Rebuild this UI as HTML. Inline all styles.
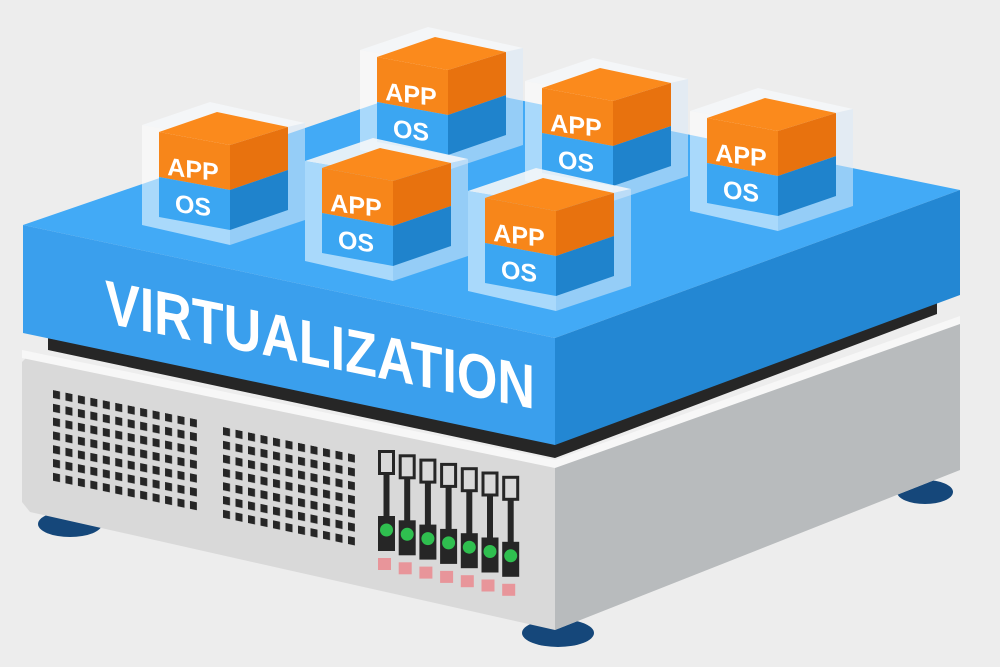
<!DOCTYPE html>
<html><head><meta charset="utf-8"><style>
html,body{margin:0;padding:0;background:#ededed;}
svg{display:block;}
text{font-family:"Liberation Sans",sans-serif;font-weight:bold;fill:#fff;}
</style></head><body>
<svg width="1000" height="667" viewBox="0 0 1000 667" xmlns="http://www.w3.org/2000/svg">
<defs>
<pattern id="v1" x="0" y="0" width="12.45" height="13.8" patternUnits="userSpaceOnUse"><rect width="7" height="8" fill="#262626"/></pattern>
<pattern id="v2" x="0" y="0" width="12.5" height="13.8" patternUnits="userSpaceOnUse"><rect width="7" height="8" fill="#262626"/></pattern>
</defs>
<rect width="1000" height="667" fill="#ededed"/>
<!-- feet -->
<ellipse cx="70" cy="524" rx="32" ry="13" fill="#15477a"/>
<ellipse cx="925" cy="492" rx="28" ry="12" fill="#15477a"/>
<ellipse cx="558" cy="633" rx="36" ry="14" fill="#15477a"/>
<!-- server -->
<polygon points="30,354 555,466 960,322 960,470 555,630 30,512 22,502 22,362" fill="#d9d9d9"/>
<polygon points="555,466 960,322 960,470 555,630" fill="#b8bbbd"/>
<polygon points="22,350 555,460 960,316 960,324 555,468 22,358" fill="#f7f7f7"/>
<!-- black strip -->
<polygon points="48,338 555,440 937,300 937,314 555,458 48,350" fill="#262626"/>
<!-- blue slab -->
<polygon points="23,225 436,83 960,190 555,338" fill="#42aaf6"/>
<polygon points="23,225 555,338 555,445 23,333" fill="#3a9fed"/>
<polygon points="555,338 960,190 960,295 555,445" fill="#2387d3"/>
<text x="105" y="302" font-size="62" textLength="430" lengthAdjust="spacingAndGlyphs" transform="matrix(1,0.2,0,1,0,0)">VIRTUALIZATION</text>
<!-- vents -->
<g transform="matrix(1,0.205,0,1,53,390)"><rect x="0" y="0" width="144" height="91" fill="url(#v1)"/></g>
<g transform="matrix(1,0.21,0,1,223,427)"><rect x="0" y="0" width="132" height="91" fill="url(#v2)"/></g>
<!-- drive slots -->
<g transform="translate(378,450)"><rect x="1.5" y="1.5" width="14" height="22" fill="none" stroke="#262626" stroke-width="3"/><rect x="5.5" y="24" width="6" height="46" fill="#262626"/><rect x="0" y="66" width="17" height="35" fill="#262626"/><circle cx="8.5" cy="80" r="6.5" fill="#2fbf4f"/><rect x="0" y="108" width="13" height="12" fill="#e8959a"/></g>
<g transform="translate(398.7,454.3)"><rect x="1.5" y="1.5" width="14" height="22" fill="none" stroke="#262626" stroke-width="3"/><rect x="5.5" y="24" width="6" height="46" fill="#262626"/><rect x="0" y="66" width="17" height="35" fill="#262626"/><circle cx="8.5" cy="80" r="6.5" fill="#2fbf4f"/><rect x="0" y="108" width="13" height="12" fill="#e8959a"/></g>
<g transform="translate(419.4,458.6)"><rect x="1.5" y="1.5" width="14" height="22" fill="none" stroke="#262626" stroke-width="3"/><rect x="5.5" y="24" width="6" height="46" fill="#262626"/><rect x="0" y="66" width="17" height="35" fill="#262626"/><circle cx="8.5" cy="80" r="6.5" fill="#2fbf4f"/><rect x="0" y="108" width="13" height="12" fill="#e8959a"/></g>
<g transform="translate(440.1,462.9)"><rect x="1.5" y="1.5" width="14" height="22" fill="none" stroke="#262626" stroke-width="3"/><rect x="5.5" y="24" width="6" height="46" fill="#262626"/><rect x="0" y="66" width="17" height="35" fill="#262626"/><circle cx="8.5" cy="80" r="6.5" fill="#2fbf4f"/><rect x="0" y="108" width="13" height="12" fill="#e8959a"/></g>
<g transform="translate(460.8,467.2)"><rect x="1.5" y="1.5" width="14" height="22" fill="none" stroke="#262626" stroke-width="3"/><rect x="5.5" y="24" width="6" height="46" fill="#262626"/><rect x="0" y="66" width="17" height="35" fill="#262626"/><circle cx="8.5" cy="80" r="6.5" fill="#2fbf4f"/><rect x="0" y="108" width="13" height="12" fill="#e8959a"/></g>
<g transform="translate(481.5,471.5)"><rect x="1.5" y="1.5" width="14" height="22" fill="none" stroke="#262626" stroke-width="3"/><rect x="5.5" y="24" width="6" height="46" fill="#262626"/><rect x="0" y="66" width="17" height="35" fill="#262626"/><circle cx="8.5" cy="80" r="6.5" fill="#2fbf4f"/><rect x="0" y="108" width="13" height="12" fill="#e8959a"/></g>
<g transform="translate(502.2,475.8)"><rect x="1.5" y="1.5" width="14" height="22" fill="none" stroke="#262626" stroke-width="3"/><rect x="5.5" y="24" width="6" height="46" fill="#262626"/><rect x="0" y="66" width="17" height="35" fill="#262626"/><circle cx="8.5" cy="80" r="6.5" fill="#2fbf4f"/><rect x="0" y="108" width="13" height="12" fill="#e8959a"/></g>

<!-- cubes -->
<g transform="translate(377,57)">
<polygon points="-17,-7 51,-30 146,-9 71,8" fill="#f4f6f8" opacity="0.9"/>
<polygon points="-17,-7 71,8 71,113 -17,93" fill="#ffffff" opacity="0.55"/>
<polygon points="71,8 146,-9 146,88 71,113" fill="#dbeaf7" opacity="0.55"/>
<polygon points="0,0 58,-20 129,-5 71,13" fill="#fb8a1c"/>
<polygon points="0,0 71,13 71,58 0,45" fill="#f7861a"/>
<polygon points="71,13 129,-5 129,38 71,58" fill="#e8720e"/>
<polygon points="0,45 71,58 71,98 0,85" fill="#3ba6f2"/>
<polygon points="71,58 129,38 129,78 71,98" fill="#1f83cc"/>
<g transform="matrix(1,0.12,0,1,0,0)"><text x="34" y="42" font-size="25" text-anchor="middle">APP</text><text x="34" y="78" font-size="25" text-anchor="middle">OS</text></g>
</g>
<g transform="translate(542,88)">
<polygon points="-17,-7 51,-30 146,-9 71,8" fill="#f4f6f8" opacity="0.9"/>
<polygon points="-17,-7 71,8 71,113 -17,93" fill="#ffffff" opacity="0.55"/>
<polygon points="71,8 146,-9 146,88 71,113" fill="#dbeaf7" opacity="0.55"/>
<polygon points="0,0 58,-20 129,-5 71,13" fill="#fb8a1c"/>
<polygon points="0,0 71,13 71,58 0,45" fill="#f7861a"/>
<polygon points="71,13 129,-5 129,38 71,58" fill="#e8720e"/>
<polygon points="0,45 71,58 71,98 0,85" fill="#3ba6f2"/>
<polygon points="71,58 129,38 129,78 71,98" fill="#1f83cc"/>
<g transform="matrix(1,0.12,0,1,0,0)"><text x="34" y="42" font-size="25" text-anchor="middle">APP</text><text x="34" y="78" font-size="25" text-anchor="middle">OS</text></g>
</g>
<g transform="translate(707,118)">
<polygon points="-17,-7 51,-30 146,-9 71,8" fill="#f4f6f8" opacity="0.9"/>
<polygon points="-17,-7 71,8 71,113 -17,93" fill="#ffffff" opacity="0.55"/>
<polygon points="71,8 146,-9 146,88 71,113" fill="#dbeaf7" opacity="0.55"/>
<polygon points="0,0 58,-20 129,-5 71,13" fill="#fb8a1c"/>
<polygon points="0,0 71,13 71,58 0,45" fill="#f7861a"/>
<polygon points="71,13 129,-5 129,38 71,58" fill="#e8720e"/>
<polygon points="0,45 71,58 71,98 0,85" fill="#3ba6f2"/>
<polygon points="71,58 129,38 129,78 71,98" fill="#1f83cc"/>
<g transform="matrix(1,0.12,0,1,0,0)"><text x="34" y="42" font-size="25" text-anchor="middle">APP</text><text x="34" y="78" font-size="25" text-anchor="middle">OS</text></g>
</g>
<g transform="translate(159,132)">
<polygon points="-17,-7 51,-30 146,-9 71,8" fill="#f4f6f8" opacity="0.9"/>
<polygon points="-17,-7 71,8 71,113 -17,93" fill="#ffffff" opacity="0.55"/>
<polygon points="71,8 146,-9 146,88 71,113" fill="#dbeaf7" opacity="0.55"/>
<polygon points="0,0 58,-20 129,-5 71,13" fill="#fb8a1c"/>
<polygon points="0,0 71,13 71,58 0,45" fill="#f7861a"/>
<polygon points="71,13 129,-5 129,38 71,58" fill="#e8720e"/>
<polygon points="0,45 71,58 71,98 0,85" fill="#3ba6f2"/>
<polygon points="71,58 129,38 129,78 71,98" fill="#1f83cc"/>
<g transform="matrix(1,0.12,0,1,0,0)"><text x="34" y="42" font-size="25" text-anchor="middle">APP</text><text x="34" y="78" font-size="25" text-anchor="middle">OS</text></g>
</g>
<g transform="translate(322,168)">
<polygon points="-17,-7 51,-30 146,-9 71,8" fill="#f4f6f8" opacity="0.9"/>
<polygon points="-17,-7 71,8 71,113 -17,93" fill="#ffffff" opacity="0.55"/>
<polygon points="71,8 146,-9 146,88 71,113" fill="#dbeaf7" opacity="0.55"/>
<polygon points="0,0 58,-20 129,-5 71,13" fill="#fb8a1c"/>
<polygon points="0,0 71,13 71,58 0,45" fill="#f7861a"/>
<polygon points="71,13 129,-5 129,38 71,58" fill="#e8720e"/>
<polygon points="0,45 71,58 71,98 0,85" fill="#3ba6f2"/>
<polygon points="71,58 129,38 129,78 71,98" fill="#1f83cc"/>
<g transform="matrix(1,0.12,0,1,0,0)"><text x="34" y="42" font-size="25" text-anchor="middle">APP</text><text x="34" y="78" font-size="25" text-anchor="middle">OS</text></g>
</g>
<g transform="translate(485,198)">
<polygon points="-17,-7 51,-30 146,-9 71,8" fill="#f4f6f8" opacity="0.9"/>
<polygon points="-17,-7 71,8 71,113 -17,93" fill="#ffffff" opacity="0.55"/>
<polygon points="71,8 146,-9 146,88 71,113" fill="#dbeaf7" opacity="0.55"/>
<polygon points="0,0 58,-20 129,-5 71,13" fill="#fb8a1c"/>
<polygon points="0,0 71,13 71,58 0,45" fill="#f7861a"/>
<polygon points="71,13 129,-5 129,38 71,58" fill="#e8720e"/>
<polygon points="0,45 71,58 71,98 0,85" fill="#3ba6f2"/>
<polygon points="71,58 129,38 129,78 71,98" fill="#1f83cc"/>
<g transform="matrix(1,0.12,0,1,0,0)"><text x="34" y="42" font-size="25" text-anchor="middle">APP</text><text x="34" y="78" font-size="25" text-anchor="middle">OS</text></g>
</g>
</svg>
</body></html>
